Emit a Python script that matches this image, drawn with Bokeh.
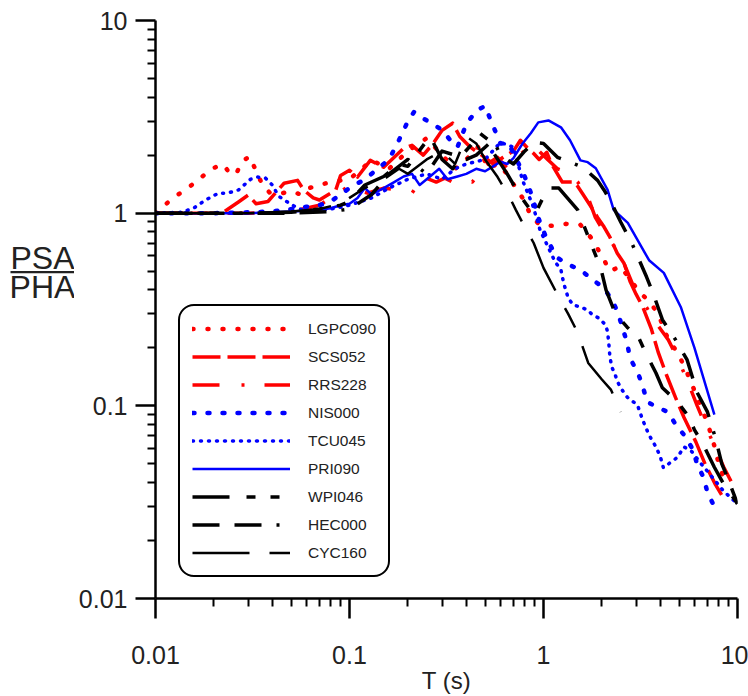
from bokeh.plotting import figure
from bokeh.layouts import row
from bokeh.models import Legend, LegendItem, FixedTicker, CustomJSTickFormatter, Range1d
from bokeh.core.properties import value
from bokeh.embed import file_html
from bokeh.resources import INLINE

FONT = "Liberation Sans"

# ---- data (period T in s, normalised spectral acceleration PSA/PHA) ----
T_LGPC090 = [0.01, 0.0115, 0.0131, 0.0151, 0.0173, 0.0197, 0.0224, 0.0243, 0.0261, 0.0281, 0.0305, 0.0327, 0.0356, 0.039, 0.045, 0.05, 0.056, 0.062, 0.07, 0.08, 0.1, 0.13, 0.16, 0.2, 0.25, 0.3, 0.35, 0.4, 0.46, 0.52, 0.58, 0.65, 0.72, 0.78, 0.85, 0.95, 1.1, 1.3, 1.55, 1.75, 2.0, 2.2, 2.5, 2.8, 3.2, 3.5, 3.9, 4.4, 4.9, 5.4, 6.0, 6.6, 7.1, 7.6, 8.0, 8.5]
V_LGPC090 = [1.0, 1.13, 1.25, 1.38, 1.54, 1.71, 1.79, 1.59, 1.61, 1.86, 1.97, 1.69, 1.40, 1.27, 1.27, 1.3, 1.25, 1.35, 1.4, 1.45, 1.5, 1.88, 1.7, 2.1, 2.45, 2.0, 1.7, 1.9, 2.2, 1.71, 1.8, 1.6, 1.35, 1.2, 1.0, 0.87, 0.86, 0.88, 0.87, 0.75, 0.6, 0.5, 0.53, 0.45, 0.38, 0.35, 0.3, 0.22, 0.19, 0.155, 0.12, 0.095, 0.078, 0.062, 0.05, 0.042]

T_SCS052 = [0.01, 0.022, 0.024, 0.027, 0.030, 0.033, 0.038, 0.046, 0.054, 0.058, 0.065, 0.07, 0.085, 0.09, 0.1, 0.11, 0.128, 0.15, 0.19, 0.21, 0.24, 0.27, 0.3, 0.34, 0.37, 0.42, 0.48, 0.55, 0.62, 0.7, 0.76, 0.82, 0.89, 0.95, 1.04, 1.1, 1.25, 1.45, 1.6, 1.8, 1.9, 2.05, 2.2, 2.4, 2.6, 2.8, 3.0, 3.25, 3.6, 3.9, 4.3, 4.8, 5.3, 6.1, 6.8, 7.7, 8.5]
V_SCS052 = [1.0, 1.0, 1.06, 1.15, 1.24, 1.12, 1.15, 1.43, 1.48, 1.32, 1.2, 1.17, 1.32, 1.57, 1.67, 1.54, 1.88, 1.73, 2.17, 2.25, 2.0, 2.3, 2.69, 2.93, 2.5, 2.2, 2.0, 1.8, 1.95, 2.1, 2.39, 2.2, 2.04, 1.9, 2.07, 1.8, 1.45, 1.45, 1.25, 1.04, 0.95, 0.85, 0.75, 0.62, 0.55, 0.44, 0.38, 0.326, 0.25, 0.19, 0.145, 0.11, 0.087, 0.065, 0.05, 0.039, 0.033]

T_RRS228 = [0.01, 0.03, 0.05, 0.07, 0.097, 0.124, 0.15, 0.18, 0.21, 0.24, 0.28, 0.31, 0.34, 0.38, 0.43, 0.49, 0.53, 0.58, 0.65, 0.73, 0.86, 0.95, 1.05, 1.18, 1.35, 1.5, 1.7, 1.85, 2.05, 2.3, 2.6, 2.9, 3.3, 3.8, 4.4, 5.0, 5.6, 6.2, 6.8, 7.6, 8.5, 10]
V_RRS228 = [1.0, 1.0, 1.02, 1.1, 1.36, 1.27, 1.35, 1.32, 1.27, 1.54, 1.45, 1.52, 1.45, 1.52, 1.45, 1.73, 1.84, 1.95, 1.71, 1.95, 2.25, 2.1, 1.9, 1.7, 1.62, 1.45, 1.2, 0.95, 0.8, 0.68, 0.55, 0.42, 0.34, 0.27, 0.22, 0.17, 0.13, 0.1, 0.08, 0.062, 0.048, 0.035]

T_NIS000 = [0.01, 0.02, 0.03, 0.04, 0.05, 0.06, 0.07, 0.08, 0.09, 0.1, 0.12, 0.14, 0.16, 0.18, 0.2, 0.215, 0.24, 0.27, 0.3, 0.33, 0.36, 0.4, 0.45, 0.5, 0.53, 0.6, 0.66, 0.73, 0.8, 0.87, 0.95, 1.03, 1.17, 1.3, 1.55, 1.8, 2.04, 2.26, 2.42, 2.7, 2.79, 3.07, 3.25, 3.42, 3.87, 4.38, 4.8, 5.4, 5.9, 6.2, 6.7, 7.0, 7.6]
V_NIS000 = [1.0, 1.0, 1.01, 1.02, 1.05, 1.08, 1.1, 1.15, 1.25, 1.35, 1.5, 1.7, 1.9, 2.4, 3.0, 3.35, 3.1, 2.9, 2.7, 2.4, 2.2, 2.9, 3.4, 3.6, 3.1, 2.3, 2.3, 1.88, 1.55, 1.24, 0.92, 0.75, 0.59, 0.55, 0.507, 0.45, 0.41, 0.354, 0.303, 0.212, 0.177, 0.148, 0.126, 0.105, 0.098, 0.093, 0.080, 0.069, 0.059, 0.0496, 0.0423, 0.0355, 0.030]

T_TCU045 = [0.01, 0.0135, 0.0157, 0.0181, 0.0211, 0.0235, 0.0268, 0.0309, 0.0336, 0.0369, 0.040, 0.043, 0.046, 0.055, 0.065, 0.08, 0.1, 0.13, 0.16, 0.2, 0.25, 0.3, 0.35, 0.4, 0.5, 0.6, 0.7, 0.78, 0.88, 0.96, 1.15, 1.23, 1.27, 1.34, 1.42, 1.55, 1.69, 1.79, 1.92, 2.09, 2.14, 2.17, 2.2, 2.25, 2.34, 2.42, 2.54, 2.7, 3.05, 3.24, 3.44, 3.6, 3.8, 4.0, 4.15, 4.5, 4.9, 5.3, 5.8, 6.5, 7.5, 8.5, 10]
V_TCU045 = [1.0, 1.01, 1.06, 1.17, 1.27, 1.27, 1.32, 1.5, 1.54, 1.52, 1.4, 1.23, 1.17, 1.05, 1.02, 1.05, 1.1, 1.2, 1.35, 1.5, 1.6, 1.5, 1.7, 1.8, 1.9, 2.33, 2.2, 1.48, 1.1, 0.817, 0.557, 0.508, 0.434, 0.363, 0.334, 0.326, 0.314, 0.296, 0.286, 0.263, 0.242, 0.212, 0.179, 0.159, 0.145, 0.132, 0.121, 0.111, 0.101, 0.0848, 0.0735, 0.067, 0.0612, 0.0545, 0.0477, 0.0507, 0.054, 0.0612, 0.058, 0.05, 0.042, 0.036, 0.031]

T_PRI090 = [0.01, 0.02, 0.03, 0.04, 0.05, 0.06, 0.07, 0.08, 0.09, 0.1, 0.11, 0.12, 0.13, 0.15, 0.17, 0.19, 0.21, 0.23, 0.26, 0.29, 0.32, 0.36, 0.4, 0.45, 0.5, 0.55, 0.6, 0.65, 0.7, 0.78, 0.86, 0.94, 1.06, 1.23, 1.37, 1.55, 1.69, 1.86, 2.14, 2.3, 2.72, 3.5, 4.17, 5.1, 6.0, 7.6]
V_PRI090 = [1.0, 1.0, 1.0, 1.01, 1.02, 1.03, 1.04, 1.06, 1.1, 1.12, 1.2, 1.35, 1.25, 1.35, 1.45, 1.55, 1.6, 1.4, 1.55, 1.7, 1.5, 1.55, 1.6, 1.7, 1.65, 1.75, 1.85, 1.8, 1.93, 2.3, 2.6, 2.96, 3.03, 2.79, 2.39, 1.88, 1.84, 1.71, 1.32, 1.04, 0.89, 0.57, 0.49, 0.326, 0.20, 0.09]

T_WPI046 = [0.01, 0.03, 0.05, 0.07, 0.09, 0.1, 0.12, 0.15, 0.18, 0.2, 0.22, 0.26, 0.3, 0.34, 0.38, 0.43, 0.47, 0.52, 0.55, 0.65, 0.75, 0.85, 0.91, 1.05, 1.2, 1.5, 1.9, 2.0, 2.1, 2.35, 2.7, 3.1, 3.35, 3.8, 4.1, 4.9, 5.6, 6.0, 6.6, 7.6, 8.4, 10]
V_WPI046 = [1.0, 1.0, 1.01, 1.05, 1.1, 1.15, 1.4, 1.55, 1.8, 1.75, 2.0, 2.5, 1.9, 1.7, 2.0, 2.3, 2.6, 2.4, 2.07, 1.6, 1.25, 1.05, 1.0, 1.35, 1.35, 1.04, 0.57, 0.49, 0.40, 0.30, 0.256, 0.225, 0.19, 0.148, 0.124, 0.105, 0.088, 0.075, 0.064, 0.048, 0.04, 0.031]

T_HEC000 = [0.01, 0.03, 0.05, 0.08, 0.1, 0.13, 0.16, 0.2, 0.25, 0.3, 0.35, 0.4, 0.45, 0.5, 0.55, 0.6, 0.7, 0.8, 0.9, 1.0, 1.18, 1.6, 1.9, 2.05, 2.2, 2.5, 2.85, 3.4, 3.7, 4.1, 4.8, 5.5, 6.2, 7.0, 7.7, 8.3, 9.0, 10]
V_HEC000 = [1.0, 1.0, 1.0, 1.02, 1.05, 1.25, 1.6, 1.9, 1.6, 2.1, 2.0, 1.9, 2.0, 2.2, 2.4, 2.0, 1.8, 2.1, 2.33, 2.3, 1.95, 1.73, 1.48, 1.32, 1.17, 0.9, 0.7, 0.466, 0.376, 0.28, 0.22, 0.173, 0.117, 0.093, 0.068, 0.05, 0.041, 0.031]

T_CYC160 = [0.01, 0.02, 0.03, 0.05, 0.07, 0.09, 0.1, 0.12, 0.15, 0.18, 0.2, 0.25, 0.3, 0.35, 0.4, 0.45, 0.5, 0.58, 0.68, 0.72, 0.79, 0.89, 1.0, 1.17, 1.34, 1.5, 1.7, 2.0, 2.23, 2.5]
V_CYC160 = [1.0, 1.0, 1.0, 1.02, 1.05, 1.12, 1.2, 1.35, 1.5, 1.7, 1.6, 1.9, 2.1, 1.8, 2.5, 2.3, 1.9, 1.54, 1.17, 1.04, 0.87, 0.70, 0.52, 0.385, 0.30, 0.24, 0.167, 0.137, 0.121, 0.093]

X_TICKS = [0.01, 0.1, 1, 10]
Y_TICKS = [0.01, 0.1, 1, 10]
Y_LABEL_TOP = "PSA"
Y_LABEL_BOTTOM = "PHA"
X_LABEL = "T (s)"

RED, BLUE, BLACK = "#ff0000", "#0000ff", "#000000"
TXT = "#222222"
series = [
    ("LGPC090", T_LGPC090, V_LGPC090, RED, "1 14", 4.5, "round"),
    ("SCS052", T_SCS052, V_SCS052, RED, "28 7", 3.5, "butt"),
    ("RRS228", T_RRS228, V_RRS228, RED, "27 22 3 20", 3.5, "butt"),
    ("NIS000", T_NIS000, V_NIS000, BLUE, "2 13", 4.5, "round"),
    ("TCU045", T_TCU045, V_TCU045, BLUE, "1 7", 3.5, "round"),
    ("PRI090", T_PRI090, V_PRI090, BLUE, "solid", 2.5, "butt"),
    ("WPI046", T_WPI046, V_WPI046, BLACK, "37 17 9 15 9 17", 3.5, "butt"),
    ("HEC000", T_HEC000, V_HEC000, BLACK, "27 15 27 15 3 15", 3.5, "butt"),
    ("CYC160", T_CYC160, V_CYC160, BLACK, "57 20 22 20", 2.5, "butt"),
]

LEFT_W = 74

# ---- narrow panel holding the fraction-style y-axis title ----
q = figure(width=LEFT_W, height=696, x_range=Range1d(0, LEFT_W), y_range=Range1d(696, 0),
           output_backend="svg", toolbar_location=None,
           x_axis_location=None, y_axis_location=None,
           min_border=0, min_border_left=0, min_border_right=0,
           min_border_top=0, min_border_bottom=0)
q.outline_line_color = None
q.xgrid.grid_line_color = None
q.ygrid.grid_line_color = None
q.background_fill_color = "white"
q.border_fill_color = "white"
q.text(x=[42, 42], y=[286, 321], text=[Y_LABEL_TOP, Y_LABEL_BOTTOM],
       text_align="center", text_baseline="middle", text_font=value(FONT),
       text_font_size="32px", text_color=TXT)
q.segment(x0=[10], y0=[303], x1=[74], y1=[303], line_width=2.2, line_color=TXT)

# ---- main chart ----
p = figure(width=748 - LEFT_W, height=696, x_axis_type="log", y_axis_type="log",
           x_range=(0.01, 10), y_range=(0.01, 10),
           output_backend="svg", toolbar_location=None,
           min_border_left=155 - LEFT_W, min_border_right=11,
           min_border_top=20, min_border_bottom=98)
p.outline_line_color = None
p.xgrid.grid_line_color = None
p.ygrid.grid_line_color = None
p.background_fill_color = "white"
p.border_fill_color = "white"

items = []
for name, T, V, color, dash, width, cap in series:
    r = p.line(T, V, line_color=color, line_dash=dash, line_width=width,
               line_cap=cap, line_join="round")
    items.append(LegendItem(label=name, renderers=[r]))

minor = [m * d for d in (0.01, 0.1, 1) for m in range(2, 10)]
fmt = CustomJSTickFormatter(code="return String(parseFloat(tick.toPrecision(4)));")
for ax, ticks in ((p.xaxis[0], X_TICKS), (p.yaxis[0], Y_TICKS)):
    ax.ticker = FixedTicker(ticks=ticks, minor_ticks=minor)
    ax.formatter = fmt
    ax.axis_line_width = 2.5
    ax.axis_line_color = "black"
    ax.major_tick_line_width = 2.5
    ax.minor_tick_line_width = 2
    ax.major_tick_in = 0
    ax.minor_tick_in = 0
    ax.major_tick_out = 20
    ax.minor_tick_out = 8
    ax.major_label_text_font = FONT
    ax.major_label_text_font_size = "25px"
    ax.major_label_text_color = TXT
p.xaxis[0].major_label_standoff = 27
p.yaxis[0].major_label_standoff = 8
p.xaxis[0].axis_label = X_LABEL
p.xaxis[0].axis_label_standoff = 0
p.xaxis[0].axis_label_text_font = FONT
p.xaxis[0].axis_label_text_font_size = "24px"
p.xaxis[0].axis_label_text_font_style = "normal"
p.xaxis[0].axis_label_text_color = TXT

legend = Legend(items=items, location=(23, 21), glyph_width=98, glyph_height=21,
                label_height=21, spacing=7, padding=12, margin=0, label_standoff=18,
                border_line_color="black", border_line_width=2, border_line_alpha=1,
                background_fill_alpha=1,
                label_text_font=FONT, label_text_font_size="15.5px", label_text_color=TXT)
try:
    legend.border_radius = 16
except Exception:
    pass
p.add_layout(legend)

layout = row(q, p, spacing=0)
open("out.html", "w").write(file_html(layout, INLINE))
